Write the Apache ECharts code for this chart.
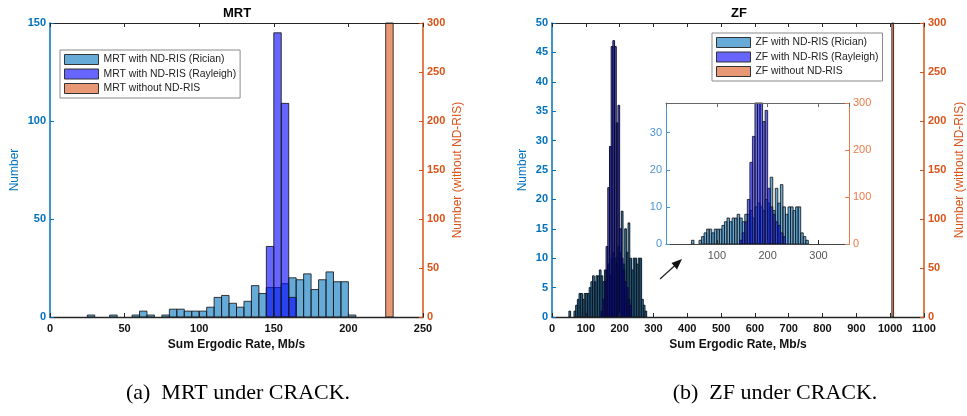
<!DOCTYPE html>
<html><head><meta charset="utf-8">
<script src="https://cdn.jsdelivr.net/npm/echarts@6/dist/echarts.min.js"></script>
<style>html,body{margin:0;padding:0;background:#fff}#c{width:967px;height:416px}</style>
</head><body><div id="c"></div>
<script>
// ---------------- data ----------------
const binWidth = 5;
// (a) MRT
const mrtRicianEdges  = [25,40,55,60,65,75,80,85,90,95,100,105,110,115,120,125,130,135,140,145,150,155,160,165,170,175,180,185,190,195,200];
const mrtRicianCounts = [1,1,1,3,1,1,4,4,3,3,3,5,10,11,7,5,8,16,12,15,15,17,20,19,22,14,19,23,18,18,1];
const mrtRayleighEdges  = [145,150,155,160];
const mrtRayleighCounts = [36,145,109,10];
const mrtWithoutEdges  = [225];
const mrtWithoutCounts = [300];
// (b) ZF
const zfRicianEdges  = [50,65,70,75,80,85,90,95,100,105,110,115,120,125,130,135,140,145,150,155,160,165,170,175,180,185,190,195,200,205,210,215,220,225,230,235,240,245,250,255,260,265,270,275];
const zfRicianCounts = [1,1,2,3,4,4,3,4,4,4,5,6,7,6,7,7,8,7,6,8,8,9,7,10,11,10,9,12,11,18,9,15,11,16,10,8,10,10,9,10,10,3,2,1];
const zfRayleighEdges  = [145,150,155,160,165,170,175,180,185,190,195,200,205,210,215,220,225,230];
const zfRayleighCounts = [1,3,6,12,22,29,46,47,46,33,36,15,10,8,6,5,3,2];
const zfWithoutEdges  = [1005];
const zfWithoutCounts = [300];
// axis ticks
const mrtXTicks = {min:0, max:250, interval:50};
const zfXTicks  = {min:0, max:1100, interval:100};
const insetXTicks = {min:0, max:360, interval:100};

const names = {
  mR:'MRT with ND-RIS (Rician)', mY:'MRT with ND-RIS (Rayleigh)', mW:'MRT without ND-RIS',
  zR:'ZF with ND-RIS (Rician)', zY:'ZF with ND-RIS (Rayleigh)', zW:'ZF without ND-RIS'
};

// ---------------- styling ----------------
const FONT = 'Liberation Sans, Arial, sans-serif';
const BLUE = '#0072bd', ORANGE = '#d95319', DARK = '#262626';
const FILL_RIC = 'rgba(0,114,189,0.6)', FILL_RAY = 'rgba(0,0,255,0.6)', FILL_WO = 'rgba(217,83,25,0.6)';
const EDGE = 'rgba(25,25,25,0.85)';
const plain = v => String(v);

function hist(name, edges, counts, xi, yi, fill, z, edge) {
  return {
    type: 'custom', name, xAxisIndex: xi, yAxisIndex: yi, z,
    data: edges.map((e, i) => [e, e + binWidth, counts[i]]),
    encode: {x: [0, 1], y: 2},
    itemStyle: {color: fill},
    renderItem: (params, api) => {
      const p0 = api.coord([api.value(0), 0]);
      const p1 = api.coord([api.value(1), api.value(2)]);
      const cs = params.coordSys;
      const r = echarts.graphic.clipRectByRect(
        {x: p0[0], y: p1[1], width: p1[0] - p0[0], height: p0[1] - p1[1]},
        {x: cs.x, y: cs.y, width: cs.width, height: cs.height});
      if (!r) return null;
      return {type: 'rect', shape: r, style: {fill: fill, stroke: edge || EDGE, lineWidth: 1}};
    }
  };
}

function xBottom(grid, t, name) {
  return {type:'value', gridIndex:grid, position:'bottom', min:t.min, max:t.max, interval:t.interval, z:6,
    axisLine:{show:true, onZero:false, lineStyle:{color:DARK, width:1.3}},
    axisTick:{show:true, inside:true, length:4, lineStyle:{color:DARK}},
    axisLabel:{color:'#111', fontWeight:'bold', fontSize:11, margin:6, fontFamily:FONT, formatter:plain},
    splitLine:{show:false},
    name:name, nameLocation:'middle', nameGap:22,
    nameTextStyle:{color:'#111', fontWeight:'bold', fontSize:12, fontFamily:FONT}};
}
function xTop(grid, t, color) {
  return {type:'value', gridIndex:grid, position:'top', min:t.min, max:t.max, interval:t.interval, z:6,
    axisLine:{show:true, onZero:false, lineStyle:{color:color || DARK, width:1}},
    axisTick:{show:true, inside:true, length:4, lineStyle:{color:color || DARK}},
    axisLabel:{show:false}, splitLine:{show:false}};
}
function yAxis(grid, pos, min, max, interval, color, name, gap, opts) {
  opts = opts || {};
  return {type:'value', gridIndex:grid, position:pos, min:min, max:max, interval:interval, z:6,
    axisLine:{show:true, onZero:false, lineStyle:{color:color, width:opts.lw || 1.5}},
    axisTick:{show:true, inside:true, length:4, lineStyle:{color:color}},
    axisLabel:{color:opts.labelColor || color, fontWeight:opts.weight || 'bold', fontSize:11, margin:4,
               fontFamily:FONT, showMaxLabel: opts.showMax !== false, formatter:plain},
    splitLine:{show:false},
    name:name || '', nameLocation:'middle', nameGap:gap || 29, nameRotate:90,
    nameTextStyle:{color:color, fontSize:12, fontFamily:FONT}};
}

const legendCommon = {
  orient:'vertical', icon:'rect', itemWidth:34, itemHeight:10, itemGap:1.5,
  padding:[3,4,3,4], borderColor:'#8a8a8a', borderWidth:1, backgroundColor:'#fff',
  textStyle:{fontSize:10.4, color:'#222', fontFamily:FONT, lineHeight:13}, selectedMode:false
};
function legItem(name, color) { return {name, itemStyle:{color, borderColor:'#333', borderWidth:1}}; }

const insetX = xBottom(2, insetXTicks, '');
insetX.axisLabel = {color:'#555', fontWeight:'normal', fontSize:11, margin:6, fontFamily:FONT, showMinLabel:false, showMaxLabel:false};
insetX.axisLine.lineStyle = {color:'#444', width:1};

const option = {
  animation:false,
  backgroundColor:'#fff',
  grid:[
    {left:50, top:23, width:373, height:294},
    {left:552, top:23, width:374, height:294},
    {left:666, top:103, width:183, height:141, show:true, backgroundColor:'#fff', borderWidth:0, z:1}
  ],
  xAxis:[
    xBottom(0, mrtXTicks, 'Sum Ergodic Rate, Mb/s'),
    xTop(0, mrtXTicks),
    xBottom(1, zfXTicks, 'Sum Ergodic Rate, Mb/s'),
    xTop(1, zfXTicks),
    insetX,
    xTop(2, insetXTicks, '#666')
  ],
  yAxis:[
    yAxis(0, 'left', 0, 150, 50, BLUE, 'Number', 29),
    yAxis(0, 'right', 0, 300, 50, ORANGE, 'Number (without ND-RIS)', 29),
    yAxis(1, 'left', 0, 50, 5, BLUE, 'Number', 23),
    yAxis(1, 'right', 0, 300, 50, ORANGE, 'Number (without ND-RIS)', 30),
    yAxis(2, 'left', 0, 38, 10, '#4a94d4', '', 0, {weight:'normal', lw:1, showMax:false}),
    yAxis(2, 'right', 0, 300, 100, '#ec7a48', '', 0, {weight:'normal', lw:1})
  ],
  legend:[
    Object.assign({left:60, top:50, data:[legItem(names.mR,'#66aad7'), legItem(names.mY,'#6666ff'), legItem(names.mW,'#e89875')]}, legendCommon),
    Object.assign({left:712, top:33, data:[legItem(names.zR,'#66aad7'), legItem(names.zY,'#6666ff'), legItem(names.zW,'#e89875')]}, legendCommon)
  ],
  series:[
    hist(names.mR, mrtRicianEdges, mrtRicianCounts, 0, 0, FILL_RIC, 2),
    hist(names.mY, mrtRayleighEdges, mrtRayleighCounts, 0, 0, FILL_RAY, 3),
    hist(names.mW, mrtWithoutEdges, mrtWithoutCounts, 0, 1, FILL_WO, 3),
    hist(names.zR, zfRicianEdges, zfRicianCounts, 2, 2, 'rgba(0,90,150,0.75)', 2, 'rgba(10,20,30,0.95)'),
    hist(names.zY, zfRayleighEdges, zfRayleighCounts, 2, 2, 'rgba(0,0,200,0.65)', 3, 'rgba(10,10,40,0.95)'),
    hist(names.zW, zfWithoutEdges, zfWithoutCounts, 2, 3, FILL_WO, 3, 'rgba(60,40,30,0.95)'),
    hist(names.zR, zfRicianEdges, zfRicianCounts, 4, 4, FILL_RIC, 3),
    hist(names.zY, zfRayleighEdges, zfRayleighCounts, 4, 4, FILL_RAY, 4)
  ],
  graphic:[
    {type:'text', x:237, y:13, style:{text:'MRT', font:'bold 13px '+FONT, fill:'#000', align:'center', verticalAlign:'middle'}},
    {type:'text', x:739, y:13, style:{text:'ZF', font:'bold 13px '+FONT, fill:'#000', align:'center', verticalAlign:'middle'}},
    {type:'line', shape:{x1:660, y1:279, x2:676, y2:264.5}, style:{stroke:'#222', lineWidth:1.2}},
    {type:'polygon', shape:{points:[[682,259],[677,269.5],[671.5,263]]}, style:{fill:'#111'}},
    {type:'text', x:238, y:393, style:{text:'(a)  MRT under CRACK.', font:'22px Liberation Serif, Times New Roman, serif', fill:'#000', align:'center', verticalAlign:'middle'}},
    {type:'text', x:775, y:393, style:{text:'(b)  ZF under CRACK.', font:'22px Liberation Serif, Times New Roman, serif', fill:'#000', align:'center', verticalAlign:'middle'}}
  ]
};
const chart = echarts.init(document.getElementById('c'), null, {renderer:'canvas'});
chart.setOption(option);
</script></body></html>
